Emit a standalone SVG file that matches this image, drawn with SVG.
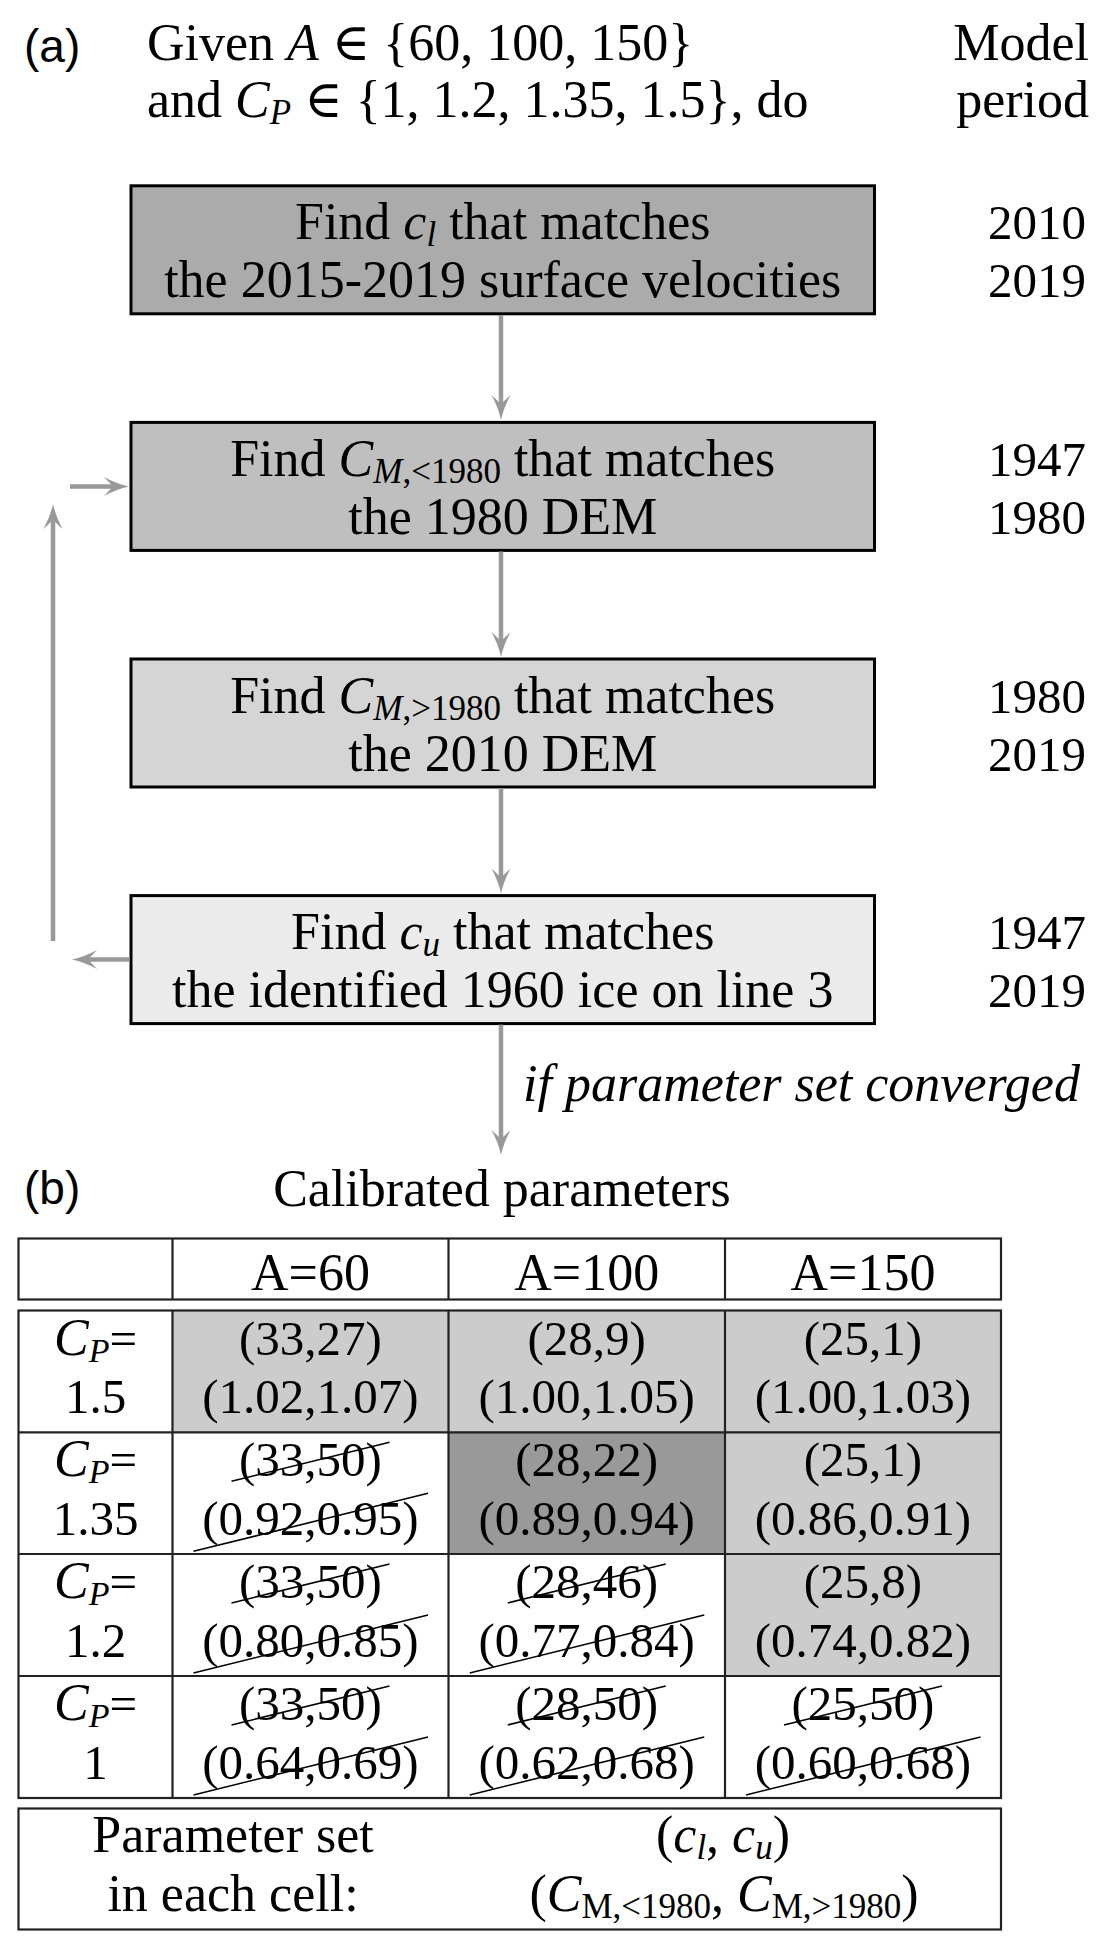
<svg xmlns="http://www.w3.org/2000/svg" width="1109" height="1950" viewBox="0 0 1109 1950">
<style>
.t{font-family:"Liberation Serif","DejaVu Serif",serif;font-size:52px;fill:#000}
.n{font-size:49px}
.i{font-style:italic}
.lbl{font-family:"Liberation Sans",Arial,sans-serif;font-size:46px;fill:#000}
.box{stroke:#000;stroke-width:3}
.arr{stroke:#999;stroke-width:4.5;fill:none;marker-end:url(#ah)}
.grid{stroke:#222;stroke-width:2.2;fill:none}
.strike{stroke:#000;stroke-width:1.6}
.light{fill:#cccccc}
.dark{fill:#999999}
</style>
<defs>
<marker id="ah" markerUnits="userSpaceOnUse" markerWidth="26" markerHeight="20" viewBox="0 0 26 20" refX="12" refY="10" orient="auto">
<path d="M0,0.5 Q13,7.5 25,10 Q13,12.5 0,19.5 L9,10 Z" fill="#999"/>
</marker>
</defs>
<rect width="1109" height="1950" fill="#fff"/>

<g id="header">
<text class="lbl" x="24" y="62">(a)</text>
<text class="t" x="147" y="60">Given <tspan class="i">A</tspan> ∈ {60, 100, 150}</text>
<text class="t" x="147" y="117">and <tspan class="i">C</tspan><tspan class="i" font-size="35" dy="7">P</tspan><tspan dy="-7"> ∈ {1, 1.2, 1.35, 1.5}, do</tspan></text>
<text class="t" x="1089" y="60" text-anchor="end">Model</text>
<text class="t" x="1089" y="117" text-anchor="end">period</text>
</g>

<g id="box1">
<rect class="box" x="131" y="185.8" width="743.5" height="128" fill="#ababab"/>
<text class="t" x="502.75" y="239.3" text-anchor="middle">Find <tspan class="i">c</tspan><tspan class="i" font-size="35" dy="7">l</tspan><tspan dy="-7"> that matches</tspan></text>
<text class="t" x="502.75" y="297.3" text-anchor="middle">the 2015-2019 surface velocities</text>
<text class="t n" x="1086" y="239.3" text-anchor="end">2010</text>
<text class="t n" x="1086" y="297.3" text-anchor="end">2019</text>
</g>

<g id="box2">
<rect class="box" x="131" y="422.4" width="743.5" height="128" fill="#bfbfbf"/>
<text class="t" x="502.75" y="475.9" text-anchor="middle">Find <tspan class="i">C</tspan><tspan font-size="35" dy="7"><tspan class="i">M</tspan>,&lt;1980</tspan><tspan dy="-7"> that matches</tspan></text>
<text class="t" x="502.75" y="533.9" text-anchor="middle">the 1980 DEM</text>
<text class="t n" x="1086" y="475.9" text-anchor="end">1947</text>
<text class="t n" x="1086" y="533.9" text-anchor="end">1980</text>
</g>

<g id="box3">
<rect class="box" x="131" y="659" width="743.5" height="128" fill="#d5d5d5"/>
<text class="t" x="502.75" y="712.5" text-anchor="middle">Find <tspan class="i">C</tspan><tspan font-size="35" dy="7"><tspan class="i">M</tspan>,&gt;1980</tspan><tspan dy="-7"> that matches</tspan></text>
<text class="t" x="502.75" y="770.5" text-anchor="middle">the 2010 DEM</text>
<text class="t n" x="1086" y="712.5" text-anchor="end">1980</text>
<text class="t n" x="1086" y="770.5" text-anchor="end">2019</text>
</g>

<g id="box4">
<rect class="box" x="131" y="895.6" width="743.5" height="128" fill="#ebebeb"/>
<text class="t" x="502.75" y="949.1" text-anchor="middle">Find <tspan class="i">c</tspan><tspan class="i" font-size="35" dy="7">u</tspan><tspan dy="-7"> that matches</tspan></text>
<text class="t" x="502.75" y="1007.1" text-anchor="middle">the identified 1960 ice on line 3</text>
<text class="t n" x="1086" y="949.1" text-anchor="end">1947</text>
<text class="t n" x="1086" y="1007.1" text-anchor="end">2019</text>
</g>

<g id="connectors">
<line class="arr" x1="501" y1="315" x2="501" y2="407"/>
<line class="arr" x1="501" y1="551.5" x2="501" y2="644"/>
<line class="arr" x1="501" y1="788" x2="501" y2="880.5"/>
<line class="arr" x1="501" y1="1024.6" x2="501" y2="1142"/>
<line class="arr" x1="129.5" y1="959.6" x2="85" y2="959.6"/>
<line class="arr" x1="53" y1="941" x2="53" y2="517"/>
<line class="arr" x1="70" y1="486.4" x2="116" y2="486.4"/>
<text class="t i" x="523" y="1101" font-size="51">if parameter set converged</text>
</g>

<g id="table">
<text class="lbl" x="24" y="1204">(b)</text>
<text class="t" x="502" y="1206" text-anchor="middle">Calibrated parameters</text>

<rect class="light" x="172.5" y="1310.5" width="828.5" height="121.8"/>
<rect class="dark" x="448.5" y="1432.3" width="276.5" height="121.7"/>
<rect class="light" x="725" y="1432.3" width="276" height="121.7"/>
<rect class="light" x="725" y="1554" width="276" height="122"/>

<rect class="grid" x="18.5" y="1238.5" width="982.5" height="61"/>
<path class="grid" d="M172.5,1238.5V1299.5M448.5,1238.5V1299.5M725,1238.5V1299.5"/>
<rect class="grid" x="18.5" y="1310.5" width="982.5" height="487.5"/>
<path class="grid" d="M18.5,1432.3H1001M18.5,1554H1001M18.5,1676H1001M172.5,1310.5V1798M448.5,1310.5V1798M725,1310.5V1798"/>

<text class="t" x="310.5" y="1290" text-anchor="middle">A=60</text>
<text class="t" x="586.75" y="1290" text-anchor="middle">A=100</text>
<text class="t" x="863" y="1290" text-anchor="middle">A=150</text>

<text class="t n" x="95.5" y="1354.5" text-anchor="middle"><tspan class="i" font-size="52">C</tspan><tspan class="i" font-size="34" dy="7">P</tspan><tspan dy="-7">=</tspan></text>
<text class="t n" x="95.5" y="1413" text-anchor="middle">1.5</text>
<text class="t n" x="95.5" y="1476.3" text-anchor="middle"><tspan class="i" font-size="52">C</tspan><tspan class="i" font-size="34" dy="7">P</tspan><tspan dy="-7">=</tspan></text>
<text class="t n" x="95.5" y="1534.8" text-anchor="middle">1.35</text>
<text class="t n" x="95.5" y="1598" text-anchor="middle"><tspan class="i" font-size="52">C</tspan><tspan class="i" font-size="34" dy="7">P</tspan><tspan dy="-7">=</tspan></text>
<text class="t n" x="95.5" y="1656.5" text-anchor="middle">1.2</text>
<text class="t n" x="95.5" y="1720" text-anchor="middle"><tspan class="i" font-size="52">C</tspan><tspan class="i" font-size="34" dy="7">P</tspan><tspan dy="-7">=</tspan></text>
<text class="t n" x="95.5" y="1778.5" text-anchor="middle">1</text>

<g text-anchor="middle">
<text class="t n" x="310.5" y="1354.5">(33,27)</text>
<text class="t n" x="310.5" y="1413">(1.02,1.07)</text>
<text class="t n" x="586.75" y="1354.5">(28,9)</text>
<text class="t n" x="586.75" y="1413">(1.00,1.05)</text>
<text class="t n" x="863" y="1354.5">(25,1)</text>
<text class="t n" x="863" y="1413">(1.00,1.03)</text>

<text class="t n" x="310.5" y="1476.3">(33,50)</text>
<text class="t n" x="310.5" y="1534.8">(0.92,0.95)</text>
<text class="t n" x="586.75" y="1476.3">(28,22)</text>
<text class="t n" x="586.75" y="1534.8">(0.89,0.94)</text>
<text class="t n" x="863" y="1476.3">(25,1)</text>
<text class="t n" x="863" y="1534.8">(0.86,0.91)</text>

<text class="t n" x="310.5" y="1598">(33,50)</text>
<text class="t n" x="310.5" y="1656.5">(0.80,0.85)</text>
<text class="t n" x="586.75" y="1598">(28,46)</text>
<text class="t n" x="586.75" y="1656.5">(0.77,0.84)</text>
<text class="t n" x="863" y="1598">(25,8)</text>
<text class="t n" x="863" y="1656.5">(0.74,0.82)</text>

<text class="t n" x="310.5" y="1720">(33,50)</text>
<text class="t n" x="310.5" y="1778.5">(0.64,0.69)</text>
<text class="t n" x="586.75" y="1720">(28,50)</text>
<text class="t n" x="586.75" y="1778.5">(0.62,0.68)</text>
<text class="t n" x="863" y="1720">(25,50)</text>
<text class="t n" x="863" y="1778.5">(0.60,0.68)</text>
</g>

<path class="strike" d="
M231.5,1481.3L389.5,1442.3M193.5,1551.3L428,1493.3
M231.5,1603L389.5,1564M193.5,1673L428,1615
M507.75,1603L665.75,1564M469.75,1673L704.25,1615
M231.5,1725L389.5,1686M193.5,1795L428,1737
M507.75,1725L665.75,1686M469.75,1795L704.25,1737
M784,1725L942,1686M746,1795L980.5,1737"/>
</g>

<g id="legend">
<rect class="grid" x="18.5" y="1808.5" width="982.5" height="121"/>
<text class="t" x="233" y="1852" text-anchor="middle">Parameter set</text>
<text class="t" x="233" y="1911" text-anchor="middle">in each cell:</text>
<text class="t" x="723" y="1852" text-anchor="middle">(<tspan class="i">c</tspan><tspan class="i" font-size="35" dy="7">l</tspan><tspan dy="-7">, </tspan><tspan class="i">c</tspan><tspan class="i" font-size="35" dy="7">u</tspan><tspan dy="-7">)</tspan></text>
<text class="t" x="724" y="1911" text-anchor="middle">(<tspan class="i">C</tspan><tspan font-size="35" dy="7">M,&lt;1980</tspan><tspan dy="-7">, </tspan><tspan class="i">C</tspan><tspan font-size="35" dy="7">M,&gt;1980</tspan><tspan dy="-7">)</tspan></text>
</g>
</svg>
